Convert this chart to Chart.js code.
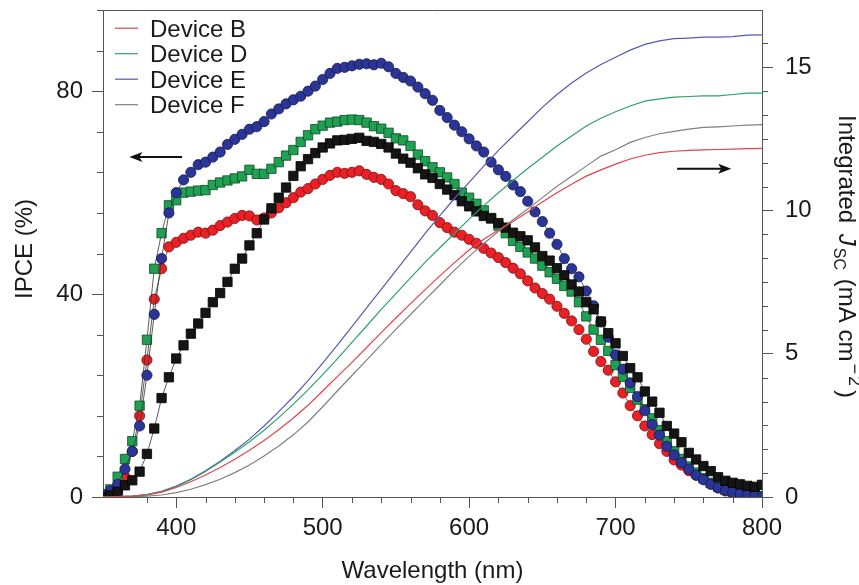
<!DOCTYPE html>
<html>
<head>
<meta charset="utf-8">
<title>IPCE and integrated Jsc</title>
<script src="https://cdn.jsdelivr.net/npm/chart.js@4.4.0/dist/chart.umd.min.js"></script>
<style>
  html, body { margin: 0; padding: 0; background: #fff; }
  #wrap { width: 859px; height: 585px; }
</style>
</head>
<body>
<div id="wrap"><canvas id="ipceChart"></canvas></div>
<script>
// IPCE spectra (%), 5 nm steps
const wavelengths = [
  350, 355, 360, 365, 370, 375, 380, 385, 390, 395,
  400, 405, 410, 415, 420, 425, 430, 435, 440, 445,
  450, 455, 460, 465, 470, 475, 480, 485, 490, 495,
  500, 505, 510, 515, 520, 525, 530, 535, 540, 545,
  550, 555, 560, 565, 570, 575, 580, 585, 590, 595,
  600, 605, 610, 615, 620, 625, 630, 635, 640, 645,
  650, 655, 660, 665, 670, 675, 680, 685, 690, 695,
  700, 705, 710, 715, 720, 725, 730, 735, 740, 745,
  750, 755, 760, 765, 770, 775, 780, 785, 790, 795,
  800
];
const ipceB = [
  0, 0.3, 1, 4, 9, 16, 27, 39, 45, 49.3,
  50.2, 51, 51.6, 52.2, 52, 52.6, 53.5, 54.2, 54.9, 55.5,
  55.4, 54.6, 55, 56, 57, 58, 59, 60.1, 60.8, 61.7,
  62.6, 63.4, 64, 63.8, 64, 64.3, 63.6, 63, 62.6, 61.7,
  60.4, 59.8, 59.2, 57.6, 56.4, 55.5, 54.1, 53.1, 52.2, 51.6,
  50.8, 50, 49, 48.1, 47.2, 46.2, 45.1, 44, 42.6, 41.2,
  40.1, 39, 37.6, 36.2, 34.7, 33, 31.1, 28.7, 26.7, 25,
  22.7, 20.5, 18, 16, 14, 12.3, 10.5, 9, 7.3, 6.3,
  5.2, 4.3, 3.5, 2.6, 1.8, 1.2, 0.8, 0.5, 0.3, 0.2,
  0
];
const ipceD = [
  0, 1.5, 4, 7.5, 11, 18, 31, 45, 52, 57.5,
  58.5, 60, 60.2, 60.4, 60.5, 61.5, 62, 62.4, 62.8, 63.2,
  64.5, 63.7, 63.7, 64.7, 66, 67.3, 68.4, 70, 71.3, 72.5,
  73.2, 73.8, 74, 74.3, 74.4, 74.3, 73.8, 73.1, 72.6, 71.8,
  70.7, 70.3, 69.2, 67.5, 66.2, 65, 64, 63, 61.7, 60,
  59, 57.8, 56.5, 55, 53.5, 52, 50.5, 49.3, 48.2, 47,
  45.6, 44.3, 43, 41.6, 40.5, 38.4, 35.6, 33, 31, 28.8,
  26, 23.7, 21.5, 19.2, 17.3, 15.5, 13.2, 11, 9, 7.5,
  6, 4.8, 3.7, 2.8, 2, 1.4, 1, 0.7, 0.5, 0.3,
  0.2
];
const ipceE = [
  0.5, 1.2, 2.5, 5.5, 9, 14, 24, 36, 47, 56,
  60, 62.5, 64, 65.5, 66, 67, 68, 69.5, 70.5, 71.5,
  72.5, 73, 74, 75.5, 76.5, 77.5, 78.3, 79, 80, 81,
  82.3, 83.5, 84.5, 84.7, 85, 85.3, 85.4, 85.2, 85.5, 84.8,
  83.5, 82.7, 82, 80.8, 79.5, 78.2, 76.2, 74.8, 73.3, 72,
  70.6, 69.2, 68, 66, 64.5, 63.2, 61.5, 60.2, 58.3, 56.2,
  54.3, 52, 49.8, 47, 45, 43.4, 40.6, 37.7, 34.5, 31.5,
  28, 25.2, 22.5, 19.8, 17, 14.3, 12.2, 10, 8.3, 6.8,
  5.5, 4.3, 3.4, 2.5, 1.8, 1.3, 0.9, 0.6, 0.4, 0.2,
  0
];
const ipceF = [
  0, 0.3, 1, 2.3, 3.3, 5, 8.5, 13.5, 19.5, 23.6,
  27.3, 29.9, 32.2, 34.2, 36.3, 38.4, 40.2, 42.4, 45, 47,
  49.6, 52, 54.7, 56.9, 59, 61, 63.3, 65.2, 66.6, 67.8,
  68.9, 69.7, 70.3, 70.4, 70.6, 70.8, 70.2, 70, 69.6, 68.9,
  67.7, 66.7, 65.9, 64.8, 63.6, 62.9, 61.7, 60.6, 59.5, 58.3,
  57.3, 56.3, 55.4, 54.9, 54, 53.1, 52.1, 51.4, 50.6, 49.2,
  47.5, 46.6, 45.1, 43.7, 41.9, 40.5, 38.4, 37, 34.6, 32.3,
  30.3, 27.8, 25.4, 23.6, 20.8, 18.8, 16.6, 14, 12.5, 10.8,
  8.7, 7.4, 6.1, 5.1, 3.9, 3.2, 2.8, 2.5, 2.2, 2,
  2.4
];

// integrated Jsc (mA cm-2), 10 nm steps
const jscWavelengths = [
  350, 360, 370, 380, 390, 400, 410, 420, 430, 440,
  450, 460, 470, 480, 490, 500, 510, 520, 530, 540,
  550, 560, 570, 580, 590, 600, 610, 620, 630, 640,
  650, 660, 670, 680, 690, 700, 710, 720, 730, 740,
  750, 760, 770, 780, 790, 800
];
const jscB = [
  0, 0.01, 0.03, 0.07, 0.17, 0.33, 0.53, 0.77, 1.03, 1.32,
  1.63, 1.97, 2.35, 2.76, 3.2, 3.7, 4.2, 4.7, 5.22, 5.74,
  6.25, 6.75, 7.24, 7.72, 8.18, 8.62, 9.0, 9.32, 9.62, 9.95,
  10.3, 10.62, 10.92, 11.2, 11.42, 11.62, 11.8, 11.93, 12.02, 12.07,
  12.1, 12.12, 12.13, 12.14, 12.16, 12.17
];
const jscD = [
  0, 0.01, 0.03, 0.08, 0.19, 0.36, 0.6, 0.89, 1.22, 1.56,
  1.93, 2.33, 2.77, 3.24, 3.74, 4.27, 4.82, 5.4, 5.97, 6.55,
  7.1, 7.65, 8.2, 8.7, 9.2, 9.7, 10.17, 10.62, 11.05, 11.47,
  11.86, 12.25, 12.6, 12.95, 13.22, 13.45, 13.65, 13.82, 13.9, 13.96,
  13.98, 14.0, 14.0, 14.05, 14.1, 14.1
];
const jscE = [
  0, 0.01, 0.03, 0.08, 0.2, 0.38, 0.62, 0.92, 1.25, 1.62,
  2.02, 2.48, 2.98, 3.5, 4.06, 4.67, 5.3, 5.95, 6.6, 7.25,
  7.9, 8.55, 9.2, 9.82, 10.42, 10.98, 11.55, 12.1, 12.6, 13.1,
  13.6, 14.05, 14.45, 14.8, 15.1, 15.35, 15.6, 15.8, 15.92, 16.0,
  16.02, 16.05, 16.05, 16.07, 16.12, 16.13
];
const jscF = [
  0, 0, 0.01, 0.03, 0.07, 0.15, 0.27, 0.43, 0.62, 0.85,
  1.12, 1.43, 1.78, 2.17, 2.62, 3.15, 3.7, 4.24, 4.78, 5.32,
  5.85, 6.37, 6.89, 7.4, 7.92, 8.4, 8.85, 9.27, 9.68, 10.05,
  10.45, 10.85, 11.2, 11.55, 11.9, 12.12, 12.38, 12.55, 12.68, 12.76,
  12.84, 12.9, 12.92, 12.95, 12.98, 13.0
];

const deviceLabels = ['Device B', 'Device D', 'Device E', 'Device F'];
const xTickLabels = [400, 500, 600, 700, 800];
const ipceTickLabels = [0, 40, 80];
const jscTickLabels = [0, 5, 10, 15];

// arrows pointing at the axis each curve family belongs to (data units)
const ipceArrow = { from: 404, to: 368, y: 67 };
const jscArrow = { from: 742, to: 779, y: 11.46 };

const FONT = '"Liberation Sans", Arial, Helvetica, sans-serif';
const TEXT = '#1a1a1a';
const AXIS = '#555';
const lineColors = ['#e0454b', '#2ea36b', '#5959b2', '#808080'];

const toXY = (xs, ys) => xs.map((x, i) => ({ x: x, y: ys[i] }));
const near = (v, list) => list.some((t) => Math.abs(t - v) < 1e-6);
const isMultiple = (v, step) => Math.abs(v / step - Math.round(v / step)) < 1e-6;

const markerSet = (label, data, shape, fill, edge, order) => ({
  label: label,
  data: data,
  yAxisID: 'y',
  order: order,
  showLine: true,
  borderColor: '#333',
  borderWidth: 0.8,
  pointStyle: shape,
  pointRadius: shape === 'rect' ? 6.6 : 5.1,
  pointBackgroundColor: fill,
  pointBorderColor: edge,
  pointBorderWidth: 0.8,
  tension: 0,
});

const jscSet = (label, data, color) => ({
  label: label,
  data: data,
  yAxisID: 'y2',
  order: 0,
  borderColor: color,
  borderWidth: 1.2,
  pointRadius: 0,
  tension: 0,
});

const datasets = [
  jscSet(deviceLabels[0], toXY(jscWavelengths, jscB), lineColors[0]),
  jscSet(deviceLabels[1], toXY(jscWavelengths, jscD), lineColors[1]),
  jscSet(deviceLabels[2], toXY(jscWavelengths, jscE), lineColors[2]),
  jscSet(deviceLabels[3], toXY(jscWavelengths, jscF), lineColors[3]),
  markerSet(deviceLabels[3], toXY(wavelengths, ipceF), 'rect', '#151515', '#000', 1),
  markerSet(deviceLabels[2], toXY(wavelengths, ipceE), 'circle', '#2b3597', '#14184a', 2),
  markerSet(deviceLabels[1], toXY(wavelengths, ipceD), 'rect', '#1fa052', '#0b4a22', 3),
  markerSet(deviceLabels[0], toXY(wavelengths, ipceB), 'circle', '#ea2027', '#7a0c0c', 4),
];

// tick rules per axis
const xMinor = (v) => isMultiple(v, 20);
const xMajor = (v) => isMultiple(v, 100);
const yMinor = (v) => isMultiple(v, 8);
const yMajor = (v) => isMultiple(v, 40);
const y2Minor = (v) => isMultiple(v, 5 / 6);
const y2Major = (v) => isMultiple(v, 5);

function drawArrow(ctx, x1, x2, y) {
  const dir = Math.sign(x2 - x1);
  ctx.strokeStyle = '#111';
  ctx.fillStyle = '#111';
  ctx.lineWidth = 2;
  ctx.beginPath();
  ctx.moveTo(x1, y);
  ctx.lineTo(x2 - dir * 8, y);
  ctx.stroke();
  ctx.beginPath();
  ctx.moveTo(x2, y);
  ctx.lineTo(x2 - dir * 13, y - 5);
  ctx.lineTo(x2 - dir * 10, y);
  ctx.lineTo(x2 - dir * 13, y + 5);
  ctx.closePath();
  ctx.fill();
}

function drawRichText(ctx, parts, cx, cy, angle, base) {
  ctx.save();
  ctx.translate(cx, cy);
  ctx.rotate(angle);
  let total = 0;
  parts.forEach((p) => { ctx.font = p.f; total += ctx.measureText(p.t).width + (p.gap || 0); });
  let x = -total / 2;
  ctx.textBaseline = 'alphabetic';
  ctx.textAlign = 'left';
  ctx.fillStyle = TEXT;
  parts.forEach((p) => {
    ctx.font = p.f;
    ctx.fillText(p.t, x, base + (p.dy || 0));
    x += ctx.measureText(p.t).width + (p.gap || 0);
  });
  ctx.restore();
}

const decorations = {
  id: 'decorations',
  afterDraw(chart) {
    const { ctx, chartArea: a, scales } = chart;
    ctx.save();

    // frame top
    ctx.strokeStyle = AXIS;
    ctx.lineWidth = 1;
    ctx.beginPath();
    ctx.moveTo(a.left, Math.round(a.top) + 0.5);
    ctx.lineTo(a.right, Math.round(a.top) + 0.5);
    ctx.stroke();

    // minor ticks (major ones come from the grid options)
    const minorLen = 6;
    ctx.beginPath();
    scales.x.ticks.forEach((t) => {
      if (!xMinor(t.value) || xMajor(t.value)) return;
      const px = Math.round(scales.x.getPixelForValue(t.value)) + 0.5;
      ctx.moveTo(px, a.bottom);
      ctx.lineTo(px, a.bottom + minorLen);
    });
    scales.y.ticks.forEach((t) => {
      if (!yMinor(t.value) || yMajor(t.value)) return;
      const py = Math.round(scales.y.getPixelForValue(t.value)) + 0.5;
      ctx.moveTo(a.left - minorLen, py);
      ctx.lineTo(a.left, py);
    });
    scales.y2.ticks.forEach((t) => {
      if (!y2Minor(t.value) || y2Major(t.value)) return;
      const py = Math.round(scales.y2.getPixelForValue(t.value)) + 0.5;
      ctx.moveTo(a.right, py);
      ctx.lineTo(a.right + minorLen, py);
    });
    ctx.stroke();

    // arrows
    drawArrow(ctx, scales.x.getPixelForValue(ipceArrow.from), scales.x.getPixelForValue(ipceArrow.to),
      scales.y.getPixelForValue(ipceArrow.y));
    drawArrow(ctx, scales.x.getPixelForValue(jscArrow.from), scales.x.getPixelForValue(jscArrow.to),
      scales.y2.getPixelForValue(jscArrow.y));

    // legend (line samples use the integrated Jsc colours)
    ctx.font = '24px ' + FONT;
    ctx.textBaseline = 'alphabetic';
    ctx.textAlign = 'left';
    deviceLabels.forEach((label, i) => {
      const base = 36.7 + i * 25.5;
      ctx.strokeStyle = lineColors[i];
      ctx.lineWidth = 1.2;
      ctx.beginPath();
      ctx.moveTo(115, base - 8.5);
      ctx.lineTo(138, base - 8.5);
      ctx.stroke();
      ctx.fillStyle = TEXT;
      ctx.fillText(label, 150, base);
    });

    // axis titles
    const big = '24px ' + FONT;
    const small = '16px ' + FONT;
    const sup = '18px ' + FONT;
    drawRichText(ctx, [{ t: 'Wavelength (nm)', f: big }], (a.left + a.right) / 2, 578, 0, 0);
    drawRichText(ctx, [{ t: 'IPCE (%)', f: big }], 23.5, 249, -Math.PI / 2, 8.5);
    drawRichText(ctx, [
      { t: 'Integrated ', f: big, gap: 4 },
      { t: 'J', f: 'italic 24px ' + FONT, gap: 2 },
      { t: 'SC', f: small, dy: 5, gap: 2 },
      { t: ' (mA cm', f: big, gap: 2 },
      { t: '\u2212', f: sup, dy: -10, gap: 2 },
      { t: '2', f: sup, dy: -10, gap: 4 },
      { t: ')', f: big },
    ], 847, 256.5, Math.PI / 2, 8.5);

    ctx.restore();
  }
};

const tickFont = { family: FONT, size: 24 };

// fixed box sizes so the plot frame sits where it does in the figure
const fitY = (w) => (s) => { s.width = w; s.paddingTop = 0; s.paddingBottom = 0; };
const fitX = (h) => (s) => { s.height = h; s.paddingLeft = 0; s.paddingRight = 0; };

new Chart(document.getElementById('ipceChart'), {
  type: 'line',
  data: { datasets: datasets },
  options: {
    responsive: true,
    maintainAspectRatio: false,
    animation: false,
    events: [],
    layout: { padding: { top: 10, left: 0, right: 0, bottom: 0 } },
    plugins: { legend: { display: false }, tooltip: { enabled: false } },
    scales: {
      x: {
        type: 'linear',
        min: 350,
        max: 800,
        afterFit: fitX(88),
        border: { color: AXIS, width: 1 },
        grid: {
          drawOnChartArea: false,
          tickLength: 11,
          tickColor: (c) => (c.tick && xMajor(c.tick.value) ? AXIS : 'rgba(0,0,0,0)'),
        },
        ticks: {
          stepSize: 20,
          autoSkip: false,
          maxRotation: 0,
          padding: 6,
          color: TEXT,
          font: tickFont,
          callback: (v) => (near(v, xTickLabels) ? String(v) : ''),
        },
      },
      y: {
        position: 'left',
        min: 0,
        max: 96,
        afterFit: fitY(103),
        border: { color: AXIS, width: 1 },
        grid: {
          drawOnChartArea: false,
          tickLength: 11,
          tickColor: (c) => (c.tick && yMajor(c.tick.value) ? AXIS : 'rgba(0,0,0,0)'),
        },
        ticks: {
          stepSize: 8,
          autoSkip: false,
          padding: 9,
          color: TEXT,
          font: tickFont,
          callback: (v) => (near(v, ipceTickLabels) ? String(v) : ''),
        },
      },
      y2: {
        position: 'right',
        min: 0,
        max: 17,
        afterFit: fitY(97),
        border: { color: AXIS, width: 1 },
        grid: {
          drawOnChartArea: false,
          tickLength: 11,
          tickColor: (c) => (c.tick && y2Major(c.tick.value) ? AXIS : 'rgba(0,0,0,0)'),
        },
        ticks: {
          stepSize: 5 / 6,
          autoSkip: false,
          padding: 12,
          color: TEXT,
          font: tickFont,
          callback: (v) => {
            const hit = jscTickLabels.find((t) => Math.abs(t - v) < 1e-6);
            return hit === undefined ? '' : String(hit);
          },
        },
      },
    },
  },
  plugins: [decorations],
});
</script>
</body>
</html>
